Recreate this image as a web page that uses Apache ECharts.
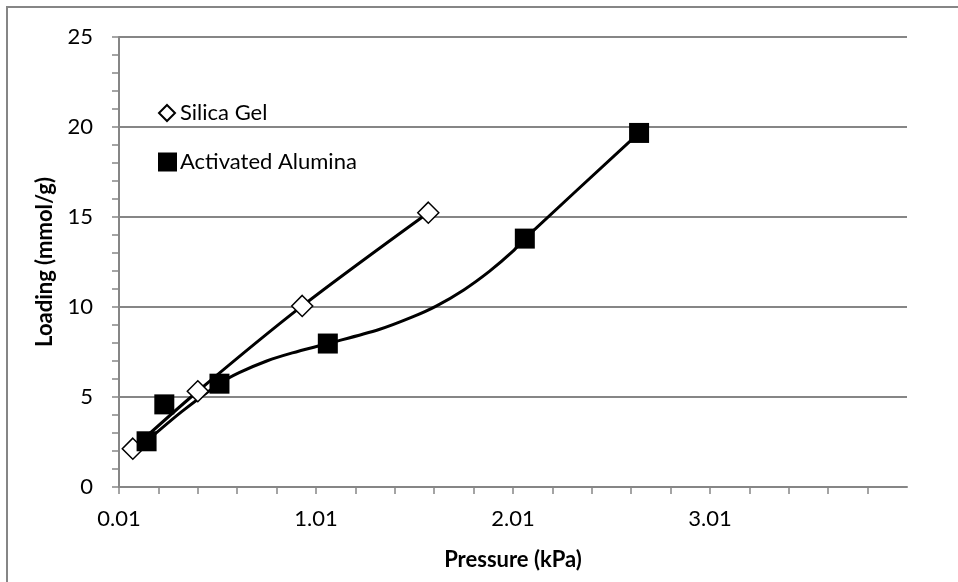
<!DOCTYPE html>
<html>
<head>
<meta charset="utf-8">
<script src="https://cdn.jsdelivr.net/npm/echarts@6/dist/echarts.min.js"></script>
<style>
  html, body { margin: 0; padding: 0; background: #ffffff; }
  #chart { width: 958px; height: 582px; }
</style>
</head>
<body>
<div id="chart"></div>
<script>
// Axis labels
const xTickLabels = [0.01, 1.01, 2.01, 3.01];
const yTickLabels = [0, 5, 10, 15, 20, 25];

// Measured isotherm points
const silicaPressure = [0.08, 0.41, 0.94, 1.58];
const silicaLoading = [2.13, 5.32, 10.06, 15.24];
const aluminaPressure = [0.15, 0.24, 0.52, 1.07, 2.07, 2.65];
const aluminaLoading = [2.54, 4.59, 5.74, 7.97, 13.8, 19.67];

// Fitted curve for activated alumina (nodes along the drawn curve)
const aluminaCurvePressure = [0.15, 0.33, 0.52, 0.62, 0.76, 0.89, 1.07, 1.33, 1.50, 1.62, 1.76, 1.89, 2.01, 2.07, 2.65];
const aluminaCurveLoading = [2.54, 4.2, 5.74, 6.35, 7.0, 7.45, 7.97, 8.75, 9.45, 10.05, 10.95, 11.98, 13.1, 13.8, 19.67];

const FONT = 'Lato, "Open Sans", sans-serif';
const FS = 22;
const GRAY = '#868686';

const zip = (xs, ys) => xs.map((x, i) => [x, ys[i]]);

// Minor tick positions along pressure axis (every 0.2 kPa)
const xMinorTicks = [];
for (let i = 0; i < 20; i++) xMinorTicks.push(+(xTickLabels[0] + i * 0.2).toFixed(2));

const chart = echarts.init(document.getElementById('chart'), null, { renderer: 'canvas' });
chart.setOption({
  animation: false,
  backgroundColor: '#ffffff',
  textStyle: { fontFamily: FONT },
  graphic: [{
    type: 'rect',
    shape: { x: 7, y: 7, width: 1200, height: 1200 },
    style: { fill: 'none', stroke: GRAY, lineWidth: 2 },
    silent: true
  }],
  grid: { left: 119, right: 51, top: 37, bottom: 95, containLabel: false },
  legend: [{
    data: [{ name: 'Silica Gel', icon: 'diamond' }],
    left: 158, top: 102, padding: 0, itemWidth: 16, itemHeight: 16, itemGap: 0,
    textStyle: { fontFamily: FONT, fontSize: FS, color: '#000', padding: [0, 0, 0, 0] }
  }, {
    data: [{ name: 'Activated Alumina', icon: 'rect' }],
    left: 158, top: 151, padding: 0, itemWidth: 19, itemHeight: 19, itemGap: 0,
    textStyle: { fontFamily: FONT, fontSize: FS, color: '#000', padding: [0, 0, 0, -2] }
  }],
  xAxis: {
    type: 'value',
    min: 0.01,
    max: 4.01,
    name: 'Pressure (kPa)',
    nameLocation: 'middle',
    nameGap: 62,
    nameTextStyle: { fontFamily: FONT, fontSize: FS, fontWeight: 'bold', color: '#000' },
    axisLine: { show: true, lineStyle: { color: GRAY, width: 2 } },
    axisTick: { show: true, length: 7, lineStyle: { color: GRAY, width: 1.5 }, customValues: xMinorTicks },
    axisLabel: {
      customValues: xTickLabels, margin: 21, fontFamily: FONT, fontSize: FS, color: '#000',
      formatter: v => v.toFixed(2)
    },
    splitLine: { show: false }
  },
  yAxis: {
    type: 'value',
    min: yTickLabels[0],
    max: yTickLabels[yTickLabels.length - 1],
    interval: 5,
    name: 'Loading (mmol/g)',
    nameLocation: 'middle',
    nameGap: 63,
    nameRotate: 90,
    nameTextStyle: { fontFamily: FONT, fontSize: FS, fontWeight: 'bold', color: '#000' },
    axisLine: { show: true, lineStyle: { color: GRAY, width: 2 } },
    axisTick: { show: true, length: 7, lineStyle: { color: GRAY, width: 1.5 } },
    minorTick: { show: true, splitNumber: 5, length: 7, lineStyle: { color: GRAY, width: 1.5 } },
    axisLabel: { margin: 26, fontFamily: FONT, fontSize: FS, color: '#000' },
    splitLine: { show: true, lineStyle: { color: GRAY, width: 2 } }
  },
  series: [
    {
      name: 'Silica Gel line',
      type: 'line',
      data: zip(silicaPressure, silicaLoading),
      smooth: 0.3,
      showSymbol: false,
      lineStyle: { color: '#000', width: 3 },
      z: 2, silent: true
    },
    {
      name: 'Activated Alumina curve',
      type: 'line',
      data: zip(aluminaCurvePressure, aluminaCurveLoading),
      smooth: 0.3,
      showSymbol: false,
      lineStyle: { color: '#000', width: 3 },
      z: 2, silent: true
    },
    {
      name: 'Silica Gel',
      type: 'scatter',
      data: zip(silicaPressure, silicaLoading),
      symbol: 'diamond',
      symbolSize: 21,
      itemStyle: { color: '#ffffff', borderColor: '#000', borderWidth: 1.5, opacity: 1 },
      z: 3
    },
    {
      name: 'Activated Alumina',
      type: 'scatter',
      data: zip(aluminaPressure, aluminaLoading),
      symbol: 'rect',
      symbolSize: 20,
      itemStyle: { color: '#000', opacity: 1 },
      z: 4
    }
  ]
});
</script>
</body>
</html>
